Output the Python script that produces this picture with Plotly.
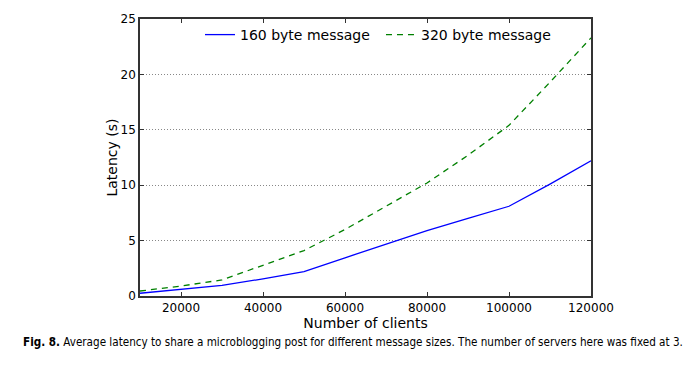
import plotly.graph_objects as go

clients = [10000, 20000, 30000, 40000, 50000, 60000, 70000, 80000, 90000, 100000, 110000, 120000]
lat_160 = [0.25, 0.6, 0.95, 1.55, 2.2, 3.45, 4.7, 5.9, 7.0, 8.1, 10.1, 12.2]
lat_320 = [0.45, 0.9, 1.45, 2.75, 4.1, 6.0, 8.1, 10.2, 12.7, 15.4, 19.3, 23.3]
y_ticks = [0, 5, 10, 15, 20, 25]
x_ticks = [20000, 40000, 60000, 80000, 100000, 120000]

font = "DejaVu Sans, Liberation Sans, sans-serif"

fig = go.Figure()
fig.add_trace(go.Scatter(x=clients, y=lat_160, mode="lines", name="160 byte message",
                         line=dict(color="#0000ff", width=1.3)))
fig.add_trace(go.Scatter(x=clients, y=lat_320, mode="lines", name="320 byte message",
                         line=dict(color="#008000", width=1.3, dash="6px,5px")))

fig.update_layout(
    width=690, height=365,
    margin=dict(l=140, r=99, t=16, b=69),
    paper_bgcolor="white", plot_bgcolor="white",
    font=dict(family=font, size=12, color="black"),
    showlegend=True,
    legend=dict(orientation="h", x=0.133, xanchor="left", y=1.0, yanchor="top",
                font=dict(size=14), bgcolor="rgba(0,0,0,0)",
                entrywidth=136, entrywidthmode="pixels"),
    xaxis=dict(range=[10000, 120000], tickvals=x_ticks, ticktext=[str(v) for v in x_ticks],
               showgrid=False, zeroline=False, showline=True, mirror="ticks",
               linecolor="#333333", linewidth=1.5, ticks="inside", ticklen=4,
               tickcolor="#333333", tickfont=dict(size=12),
               title=dict(text="Number of clients", font=dict(size=14), standoff=4)),
    yaxis=dict(range=[0, 25], tickvals=y_ticks, showgrid=True, gridcolor="#888888",
               griddash="1px,2px", gridwidth=1, zeroline=False, showline=True, mirror="ticks",
               linecolor="#333333", linewidth=1.5, ticks="inside", ticklen=4,
               tickcolor="#333333", tickfont=dict(size=12),
               title=dict(text="Latency (s)", font=dict(size=14), standoff=0)),
)

fig.add_annotation(
    xref="paper", yref="paper", x=0.472, y=0, xanchor="center", yanchor="top",
    yshift=-37, showarrow=False,
    text="<b>Fig. 8.</b> Average latency to share a microblogging post for different message sizes. The number of servers here was fixed at 3.",
    font=dict(family="Liberation Sans Narrow, DejaVu Sans Condensed, sans-serif", size=11.6, color="black"),
)

fig.write_html("out.html", config={"displayModeBar": False},
               post_script="document.body.style.margin='0';")
